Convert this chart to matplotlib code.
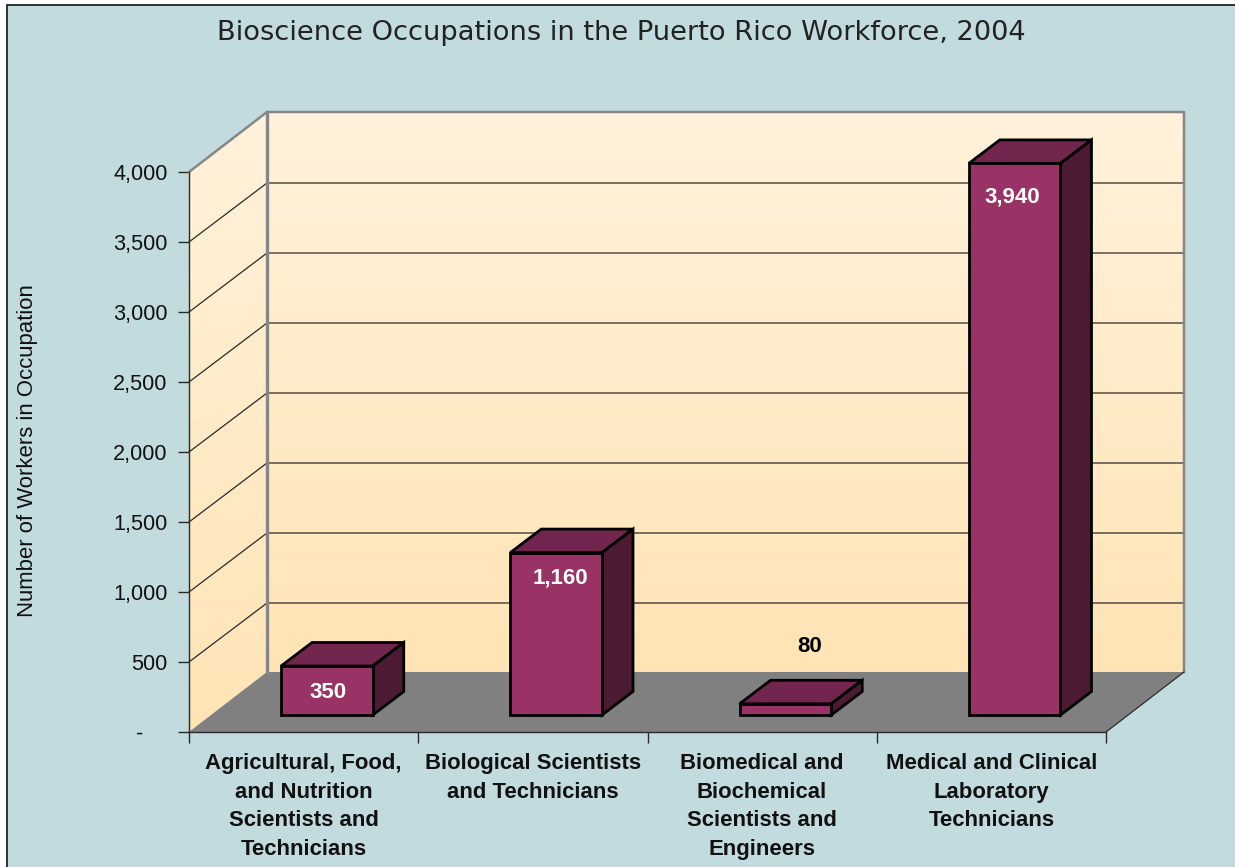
import numpy as np
import matplotlib
matplotlib.use("Agg")
import matplotlib.pyplot as plt
from matplotlib.patches import Polygon, Rectangle
from matplotlib.colors import LinearSegmentedColormap

title = "Bioscience Occupations in the Puerto Rico Workforce, 2004"
ylabel = "Number of Workers in Occupation"
categories = ["Agricultural, Food,\nand Nutrition\nScientists and\nTechnicians",
              "Biological Scientists\nand Technicians",
              "Biomedical and\nBiochemical\nScientists and\nEngineers",
              "Medical and Clinical\nLaboratory\nTechnicians"]
values = [350, 1160, 80, 3940]
value_labels = ["350", "1,160", "80", "3,940"]
yticks = [0, 500, 1000, 1500, 2000, 2500, 3000, 3500, 4000]
ytick_labels = ["-    ", "500", "1,000", "1,500", "2,000", "2,500", "3,000", "3,500", "4,000"]

W, H = 1235, 867
BG, WALL_TOP, WALL_BOT = "#C2DBDF", "#FFF2DB", "#FFE4B5"
FRONT, TOP, SIDE = "#993366", "#73264D", "#4D1A33"
FLOOR, EDGE, DARK = "#808080", "#868686", "#2A2A2A"
SANS = "Liberation Sans"

fig = plt.figure(figsize=(W / 100, H / 100), dpi=100, facecolor="white")
fig.add_artist(Rectangle((6.5 / W, -0.01), 1.01 - 6.5 / W, 1.01 - 5 / H,
                         transform=fig.transFigure, facecolor=BG,
                         edgecolor="#222222", linewidth=1.3, zorder=-5))
ax = fig.add_axes([189 / W, 1 - 732 / H, 917 / W, 560 / H])
ax.patch.set_visible(False)

n = len(categories)
ymax = yticks[-1]
PX_X = n / 917            # data units per pixel, x
PX_Y = ymax / 560         # data units per pixel, y
# oblique depth of the chart box (78 px across, 60 px up)
DX = 78 * PX_X
DY = 60 * PX_Y

cmap = LinearSegmentedColormap.from_list("wall", [WALL_TOP, WALL_BOT])
grad = np.linspace(0, 1, 256).reshape(-1, 1)

# back wall
ax.imshow(grad, cmap=cmap, aspect="auto", origin="upper",
          extent=(DX, n + DX, DY, ymax + DY), zorder=1, clip_on=False)
# side wall
side = Polygon([(0, 0), (DX, DY), (DX, ymax + DY), (0, ymax)], transform=ax.transData,
               facecolor="none", edgecolor="none")
im = ax.imshow(grad, cmap=cmap, aspect="auto", origin="upper",
               extent=(0, DX, 0, ymax + DY), zorder=1)
im.set_clip_path(side)
im.set_clip_box(fig.bbox)
# floor
ax.add_patch(Polygon([(0, 0), (DX, DY), (n + DX, DY), (n, 0)], facecolor=FLOOR,
                     edgecolor="none", zorder=2, clip_on=False))
# grid
for v in yticks[1:-1]:
    ax.plot([0, DX, n + DX], [v, v + DY - PX_Y, v + DY - PX_Y], color=DARK, lw=0.9, zorder=3,
            clip_on=False, solid_joinstyle="miter")
# wall outlines
ax.plot([0, DX, n + DX, n + DX], [ymax, ymax + DY, ymax + DY, DY], color=EDGE, lw=1.8,
        zorder=3, clip_on=False)
ax.plot([DX, DX], [DY, ymax + DY], color=EDGE, lw=2.4, zorder=3, clip_on=False)
ax.plot([n, n + DX], [0, DY], color=DARK, lw=0.9, zorder=3, clip_on=False)

# bars
d0, d1 = 0.283, 0.675
bw = 0.4
label_offsets = [-26, -25, 57, -34]   # px from bar's front top edge to label centre
label_colors = ["white", "white", "black", "white"]
label_dx = [1, 4, 24, -2]
for i, v in enumerate(values):
    c = i + 0.5 + DX * d0 + 1.2 * PX_X
    l, r = c - bw / 2, c + bw / 2
    y0 = DY * d0
    ox, oy = 31 * PX_X, DY * (d1 - d0)
    kw = dict(edgecolor="black", linewidth=2.0, joinstyle="miter", clip_on=False, zorder=5)
    ax.add_patch(Polygon([(l, y0 + v), (l + ox, y0 + v + oy), (r + ox, y0 + v + oy), (r, y0 + v)],
                         facecolor=TOP, **kw))
    ax.add_patch(Polygon([(r, y0), (r + ox, y0 + oy), (r + ox, y0 + v + oy), (r, y0 + v)],
                         facecolor=SIDE, **kw))
    ax.add_patch(Rectangle((l, y0), bw, v, facecolor=FRONT, **kw))
    ax.annotate(value_labels[i], (c, y0 + v), xytext=(label_dx[i] * 0.72, label_offsets[i] * 0.72),
                textcoords="offset points", ha="center", va="center", color=label_colors[i],
                fontfamily=SANS, fontweight="bold", fontsize=16, zorder=6, annotation_clip=False)

# axes
ax.set_xlim(0, n)
ax.set_ylim(0, ymax)
for s in ("top", "right"):
    ax.spines[s].set_visible(False)
for s in ("left", "bottom"):
    ax.spines[s].set_color(DARK)
    ax.spines[s].set_linewidth(1.0)
    ax.spines[s].set_zorder(4)
ax.set_yticks(yticks, ytick_labels, fontfamily=SANS, fontsize=15.6, color="#111111")
ax.set_xticks(range(n + 1), [""] * (n + 1))
ax.set_xticks(np.arange(n) + 0.5, categories, minor=True, fontfamily=SANS, fontweight="bold",
              fontsize=15.9, color="#111111", linespacing=1.466, ha="center", va="top")
ax.tick_params(axis="both", which="major", length=7.9, width=1.0, color=DARK)
ax.tick_params(axis="y", pad=7.6)
ax.tick_params(axis="x", which="minor", length=0, pad=15.4)
ax.set_ylabel(ylabel, fontfamily=SANS, fontsize=15.9, color="#111111", va="center")
ax.yaxis.set_label_coords((28 - 189) / 917, (732 - 451) / 560)

fig.text(621 / W, 1 - 33 / H, title, ha="center", va="center", family="DejaVu Sans",
         fontsize=19.6, color="#222222")

fig.savefig("out.png", dpi=100, facecolor="white")
